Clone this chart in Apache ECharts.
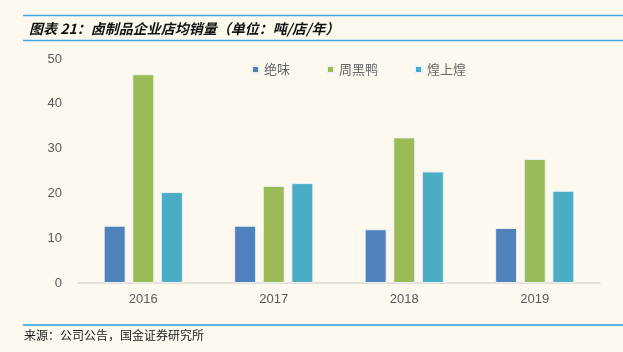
<!DOCTYPE html>
<html>
<head>
<meta charset="utf-8">
<script src="https://cdn.jsdelivr.net/npm/echarts@6/dist/echarts.min.js"></script>
<style>
  html, body { margin: 0; padding: 0; background: #fdf9ef; }
  #chart { width: 623px; height: 352px; }
</style>
</head>
<body>
<div id="chart"></div>
<script>
// 数据
var years = ['2016', '2017', '2018', '2019'];
var juewei = [12.8, 12.8, 12.0, 12.3];
var zhouheiya = [46.6, 21.7, 32.5, 27.7];
var huangshanghuang = [20.3, 22.3, 24.9, 20.6];
var yTicks = [0, 10, 20, 30, 40, 50];

var myChart = echarts.init(document.getElementById('chart'));
var font = '"Noto Sans CJK SC", sans-serif';

function bar(name, data, color) {
    return {
        name: name,
        type: 'bar',
        data: data,
        barWidth: 22,
        barGap: '30%',
        itemStyle: { color: color, borderColor: '#eef3f6', borderWidth: 1 }
    };
}

var option = {
    backgroundColor: '#fdf9ef',
    animation: false,
    title: {
        text: '图表 21：卤制品企业店均销量（单位：吨/店/年）',
        left: 24,
        top: 17,
        textStyle: {
            fontFamily: font,
            fontSize: 14,
            fontWeight: 'bold',
            fontStyle: 'italic',
            color: '#111'
        }
    },
    graphic: [
        { type: 'line', shape: { x1: 23, y1: 15.5, x2: 623, y2: 15.5 }, style: { stroke: '#45a8e0', lineWidth: 1.5 } },
        { type: 'line', shape: { x1: 23, y1: 40.5, x2: 623, y2: 40.5 }, style: { stroke: '#45a8e0', lineWidth: 1.5 } },
        { type: 'line', shape: { x1: 23, y1: 325, x2: 623, y2: 325 }, style: { stroke: '#1f9ae0', lineWidth: 1.5 } },
        {
            type: 'text', left: 24, top: 329,
            style: { text: '来源：公司公告，国金证券研究所', font: '12px ' + font, fill: '#222' }
        }
    ],
    legend: {
        data: ['绝味', '周黑鸭', '煌上煌'],
        left: 246,
        top: 58,
        icon: 'rect',
        itemWidth: 7,
        itemHeight: 7,
        itemGap: 36,
        textStyle: { fontFamily: font, fontSize: 13, color: '#666' }
    },
    grid: { left: 78, right: 23, top: 59, bottom: 69, containLabel: false },
    xAxis: {
        type: 'category',
        data: years,
        axisTick: { show: false },
        axisLine: { lineStyle: { color: '#d9d9d9', width: 1.5 } },
        axisLabel: { color: '#595959', fontSize: 13, margin: 10, fontFamily: 'Liberation Sans, sans-serif' }
    },
    yAxis: {
        type: 'value',
        min: yTicks[0],
        max: yTicks[yTicks.length - 1],
        interval: 10,
        splitLine: { show: false },
        axisLine: { show: false },
        axisTick: { show: false },
        axisLabel: { color: '#595959', fontSize: 13, margin: 16, fontFamily: 'Liberation Sans, sans-serif' }
    },
    series: [
        bar('绝味', juewei, '#4f81bd'),
        bar('周黑鸭', zhouheiya, '#9bbb59'),
        bar('煌上煌', huangshanghuang, '#4bacc6')
    ]
};

myChart.setOption(option);
</script>
</body>
</html>
